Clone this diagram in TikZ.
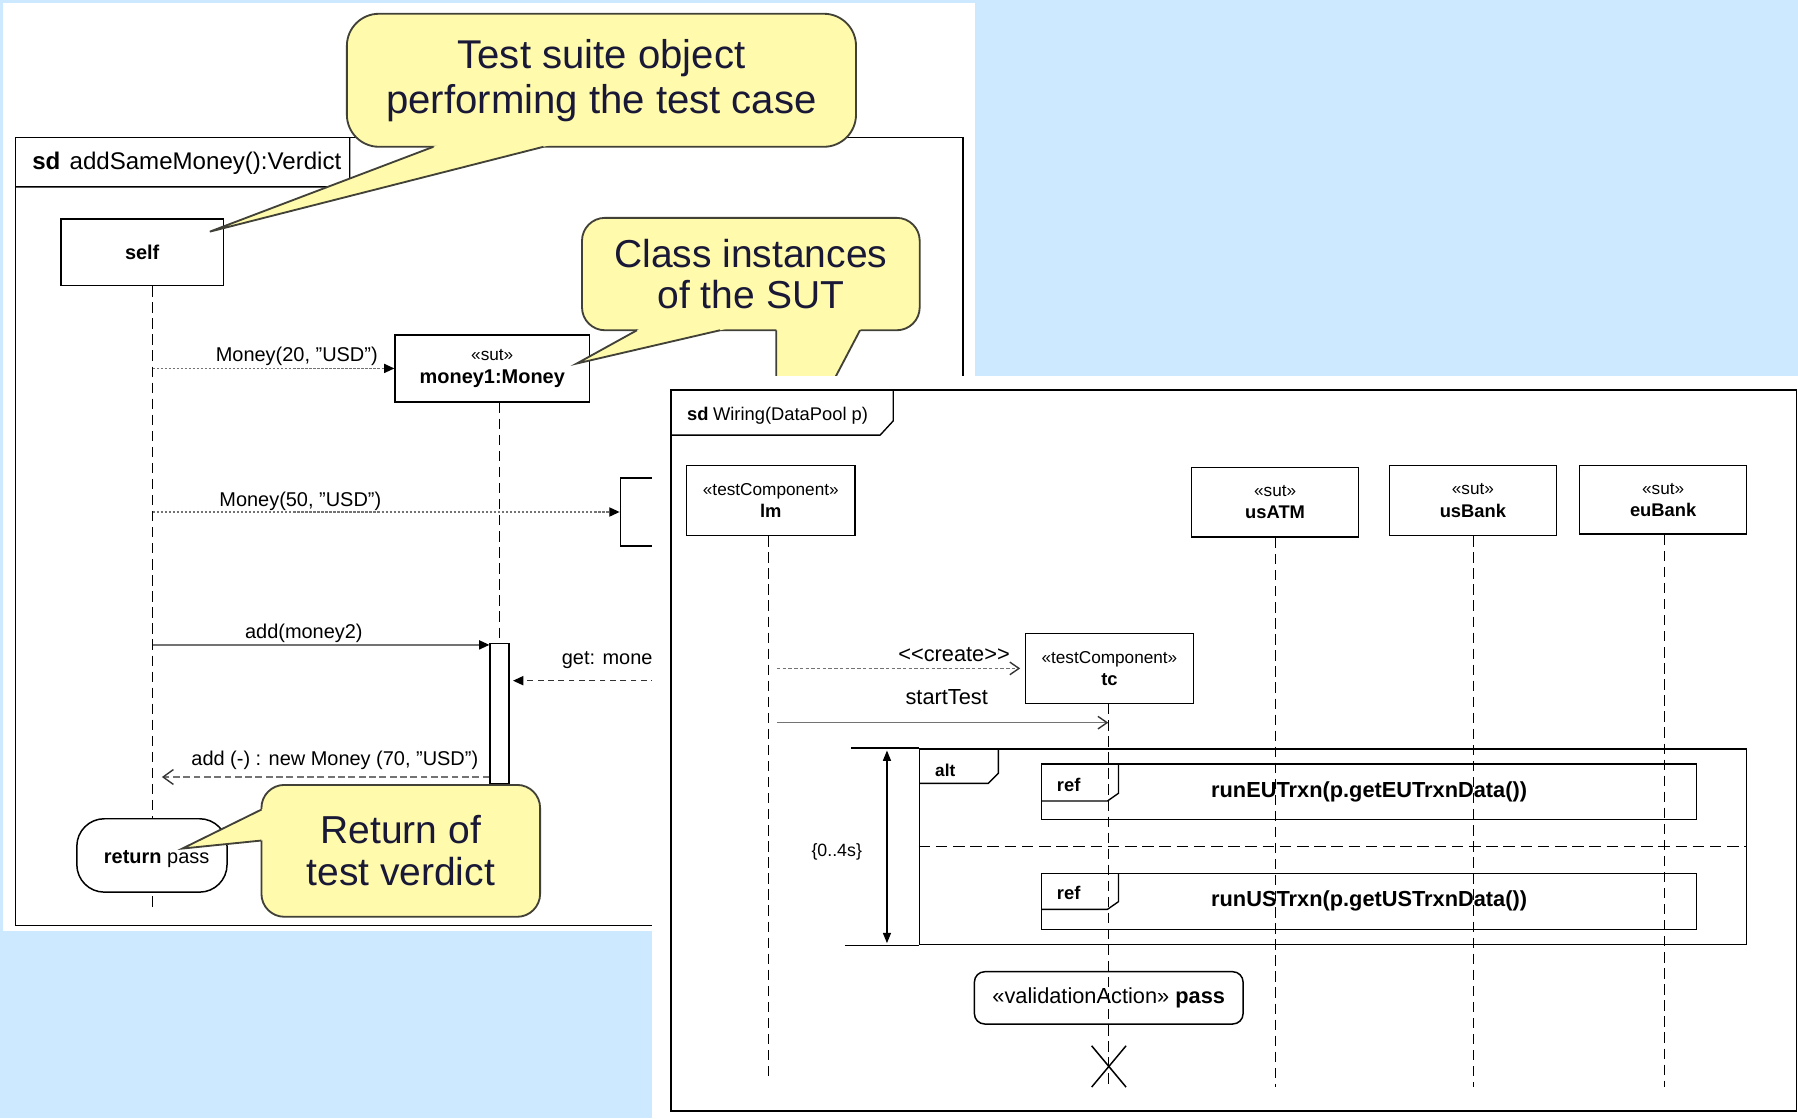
\documentclass[tikz,border=0pt]{standalone}
\usepackage{fontspec}
\setmainfont{Liberation Sans}
\usetikzlibrary{arrows.meta,calc}
\definecolor{skyback}{RGB}{204,233,255}
\definecolor{noteyellow}{RGB}{255,250,172}
\definecolor{noteline}{RGB}{65,65,55}
\definecolor{notetext}{RGB}{25,25,55}
\definecolor{msggray}{RGB}{115,115,115}
\begin{document}
\begin{tikzpicture}[x=1pt, y=-1pt,
  objbox/.style={shape=rectangle, draw, line width=1.3pt, fill=white, align=center, inner sep=0pt},
  sdframe/.style={shape=rectangle, draw, line width=1.4pt, inner sep=0pt},
  lifeline/.style={line width=1pt, dash pattern=on 9pt off 5pt},
  msglabel/.style={inner sep=0pt, font=\fontsize{17.4}{20}\selectfont},
  rlabel/.style={inner sep=0pt, font=\fontsize{19}{22}\selectfont},
  notebox/.style={shape=rectangle, rounded corners=20pt, draw=noteline, line width=1.6pt, fill=noteyellow,
    text=notetext, align=center, inner sep=0pt, font=\fontsize{34}{36.3}\selectfont},
  dotmsg/.style={msggray, line width=1.2pt, dash pattern=on 2pt off 1.5pt, -{Triangle[length=9pt,width=8pt,color=black]}},
  solmsg/.style={msggray, line width=1.2pt, -{Triangle[length=9pt,width=8pt,color=black]}},
  dashmsg/.style={black!80, line width=1.2pt, dash pattern=on 5pt off 4pt, -{Triangle[length=9pt,width=8pt,color=black]}},
  retmsg/.style={msggray, line width=1.2pt, dash pattern=on 6pt off 3pt, -{Straight Barb[length=9pt,width=13pt,color=black!80]}},
  openmsg/.style={msggray, line width=1.2pt, -{Straight Barb[length=8pt,width=11pt,color=black!80]}}]

  % backgrounds and left diagram
  \path[fill=skyback] (0,0) rectangle (1568,975);
  \path[fill=white] (3,3) rectangle (850,812);
  \node (l0) [sdframe, minimum width=826.4pt, minimum height=687pt] at (426.8,463.5) {};
  \draw[line width=1.2pt] (13.6,163) -- (298,163) -- (305,156) -- (305,120);
  \node (l0t) [anchor=west, inner sep=0pt, font=\fontsize{21}{24}\selectfont] at (28,142) {\textbf{sd}\hspace{8pt}addSameMoney():Verdict};

  \node (l1) [objbox, minimum width=142pt, minimum height=58pt, font=\fontsize{17.4}{20}\selectfont\bfseries] at (124,220) {self};
  \node (l2) [objbox, minimum width=169.5pt, minimum height=58.6pt, font=\fontsize{17.4}{20.4}\selectfont]
  at (429.3,321.3) {{\fontsize{15}{20.4}\selectfont «sut»}\\ \textbf{money1:Money}};
  \node (l3) [objbox, minimum width=170pt, minimum height=59pt] at (626,446.5) {};
  \node (l4) [objbox, line width=1.2pt, minimum width=16.4pt, minimum height=122pt] at (435.6,622) {};

  \coordinate (e1) at (133.2,793);
  \coordinate (e2) at (435.6,745);
  \draw[lifeline] (l1.south -| e1) -- (e1);
  \draw[lifeline] (l2.south -| l4.north) -- (l4.north);
  \draw[lifeline] (l4.south) -- (e2);

  \node (l5) [objbox, rounded corners=24pt, minimum width=131pt, minimum height=64pt] at (132.5,746) {};

  % messages of the test case
  \draw[dotmsg] (e1 |- l2.west) -- (l2.west);
  \node (t1) [msglabel] at (258.8,311) {Money(20, ”USD”)};
  \draw[dotmsg] (e1 |- l3.west) -- (l3.west);
  \node (t2) [msglabel] at (261.9,437.3) {Money(50, ”USD”)};
  \draw[solmsg] ($(e1 |- l4.north west)+(0,2)$) -- ($(l4.north west)+(0,2)$);
  \node (t3) [msglabel] at (265,552.5) {add(money2)};
  \coordinate (g1) at (600,593.6);
  \draw[dashmsg, shorten >=3pt] (g1) -- (l4.east |- g1);
  \node (t4) [msglabel, anchor=west] at (489.8,576) {get: money};
  \draw[retmsg] ($(l4.south west)+(0,-6)$) -- ($(e1 |- l4.south west)+(8,-6)$);
  \node (t5) [msglabel] at (292,663) {add (-) : new Money (70, ”USD”)};

  % callouts
  \node (c1) [notebox, rounded corners=28pt, minimum width=444pt, minimum height=116pt, font=\fontsize{35}{39}\selectfont]
  at (524.5,70) {Test suite object\\ performing the test case};
  \coordinate (k1) at (183,202);
  \fill[noteyellow] (399,120) -- (k1) -- (505.5,120) -- cycle;
  \draw[noteline, line width=1.6pt] (378,128) -- (k1) -- (474,128);

  \node (c2) [notebox, minimum width=294.5pt, minimum height=98pt] at (654.8,239) {Class instances\\ of the SUT};
  \coordinate (k2) at (503,317);
  \coordinate (k3) at (677,427);
  \fill[noteyellow] (564.6,283) -- (k2) -- (649.6,283) -- cycle;
  \fill[noteyellow] (677,283) -- (k3) -- (752.6,283) -- cycle;
  \draw[noteline, line width=1.6pt] (555.5,288) -- (k2) -- (628,288);
  \draw[noteline, line width=1.6pt] (677,288) -- (k3) -- (750,288);

  \node (c3) [notebox, minimum width=243pt, minimum height=115pt] at (349.5,742) {Return of\\ test verdict};
  \coordinate (k4) at (159,740);
  \fill[noteyellow] (234,703) -- (k4) -- (234,732.4) -- cycle;
  \draw[noteline, line width=1.6pt] (228,706) -- (k4) -- (228,733);
  \node (l5t) [msglabel] at (136.6,749) {\textbf{return} pass};

  % right diagram
  \path[fill=white] (568.3,327.6) rectangle (1568,975);
  \node (r0) [sdframe, minimum width=981.8pt, minimum height=629pt] at (1075.9,654.5) {};
  \draw[line width=1.2pt] (585,379.5) -- (767.5,379.5) -- (779,367) -- (779,340);
  \node (r0t) [anchor=west, inner sep=0pt, font=\fontsize{16}{19}\selectfont] at (599,363) {\textbf{sd}\hspace{4pt}Wiring(DataPool p)};

  \node (r1) [objbox, minimum width=146.8pt, minimum height=61pt, font=\fontsize{16}{19.5}\selectfont]
  at (672.2,436.5) {{\fontsize{15}{19.5}\selectfont «testComponent»}\\ \textbf{lm}};
  \node (r2) [objbox, minimum width=145.5pt, minimum height=61pt, font=\fontsize{16}{19.5}\selectfont]
  at (1112,438) {{\fontsize{15}{19.5}\selectfont «sut»}\\ \textbf{usATM}};
  \node (r3) [objbox, minimum width=145.5pt, minimum height=61pt, font=\fontsize{16}{19.5}\selectfont]
  at (1284.5,436.5) {{\fontsize{15}{19.5}\selectfont «sut»}\\ \textbf{usBank}};
  \node (r4) [objbox, minimum width=145.6pt, minimum height=59.7pt, font=\fontsize{16}{19.5}\selectfont]
  at (1450.4,435.9) {{\fontsize{15}{19.5}\selectfont «sut»}\\ \textbf{euBank}};
  \node (r5) [objbox, minimum width=146.3pt, minimum height=61pt, font=\fontsize{16}{19.5}\selectfont]
  at (967.5,582.9) {{\fontsize{15}{19.5}\selectfont «testComponent»}\\ \textbf{tc}};

  \coordinate (e3) at (670.5,940);
  \coordinate (e4) at (1112,947.7);
  \coordinate (e5) at (1284.8,947.7);
  \coordinate (e6) at (1451.7,947.7);
  \coordinate (e7) at (966.5,947.7);
  \draw[lifeline] (r1.south -| e3) -- (e3);
  \draw[lifeline] (r2.south -| e4) -- (e4);
  \draw[lifeline] (r3.south -| e5) -- (e5);
  \draw[lifeline] (r4.south -| e6) -- (e6);
  \draw[lifeline] (r5.south -| e7) -- (e7);

  \draw[openmsg, dash pattern=on 3pt off 2pt, shorten <=7pt, shorten >=4pt] (e3 |- r5.west) -- (r5.west);
  \node (u1) [rlabel] at (832,571.2) {<\kern0pt<create>\kern0pt>};
  \coordinate (q1) at (966.5,630.2);
  \draw[openmsg, shorten <=7pt] (e3 |- q1) -- (q1);
  \node (u2) [rlabel] at (825.6,608.1) {startTest};

  % alt fragment with the two references
  \node (r6) [draw, line width=1.3pt, minimum width=721.2pt, minimum height=170.8pt] at (1162.4,738.4) {};
  \draw[line width=1.3pt] (r6.north west) -- ++(-59,0);
  \draw[line width=1.3pt] (r6.south west) -- ++(-64,0);
  \draw[line width=1.2pt] (801.8,683.1) -- (861.9,683.1) -- (870.6,674.4) -- (870.6,653);
  \node (r6t) [anchor=west, inner sep=0pt, font=\fontsize{15}{18}\selectfont\bfseries] at (815.4,671.5) {alt};
  \draw[line width=1.2pt, dash pattern=on 10pt off 5pt] (r6.west) -- (r6.east);
  \coordinate (d1) at (773.5,654.5);
  \coordinate (d2) at (773.5,822.5);
  \draw[line width=1.2pt, {Triangle[length=9pt,width=7pt]}-{Triangle[length=9pt,width=7pt]}] (d1) -- (d2);
  \node (r6d) [inner sep=0pt, font=\fontsize{15.5}{18}\selectfont] at (729.7,742.7) {\{0..4s\}};

  \node (r7) [draw, line width=1.3pt, minimum width=571.3pt, minimum height=48.2pt, font=\fontsize{19}{22}\selectfont\bfseries]
  at (1194,690.4) {runEUTrxn(p.getEUTrxnData())};
  \draw[line width=1.2pt] (908.4,698.5) -- (965.8,698.5) -- (975.4,691.8) -- (975.4,666.3);
  \node (r7t) [anchor=west, inner sep=0pt, font=\fontsize{16}{19}\selectfont\bfseries] at (921.5,684.6) {ref};
  \node (r8) [draw, line width=1.3pt, minimum width=571.3pt, minimum height=48.9pt, font=\fontsize{19}{22}\selectfont\bfseries]
  at (1194,786) {runUSTrxn(p.getUSTrxnData())};
  \draw[line width=1.2pt] (908.4,793) -- (965.8,793) -- (975.4,786.3) -- (975.4,761.6);
  \node (r8t) [anchor=west, inner sep=0pt, font=\fontsize{16}{19}\selectfont\bfseries] at (921.5,779) {ref};

  \node (r9) [draw, rounded corners=9pt, line width=1.3pt, minimum width=234.3pt, minimum height=45.6pt, font=\fontsize{19}{22}\selectfont]
  at (966.9,870.2) {«validationAction» \textbf{pass}};
  \coordinate (x1) at (967,930);
  \draw[line width=1.3pt] ($(x1)+(-15,-18)$) -- ($(x1)+(15,18)$) ($(x1)+(15,-18)$) -- ($(x1)+(-15,18)$);
\end{tikzpicture}
\end{document}
